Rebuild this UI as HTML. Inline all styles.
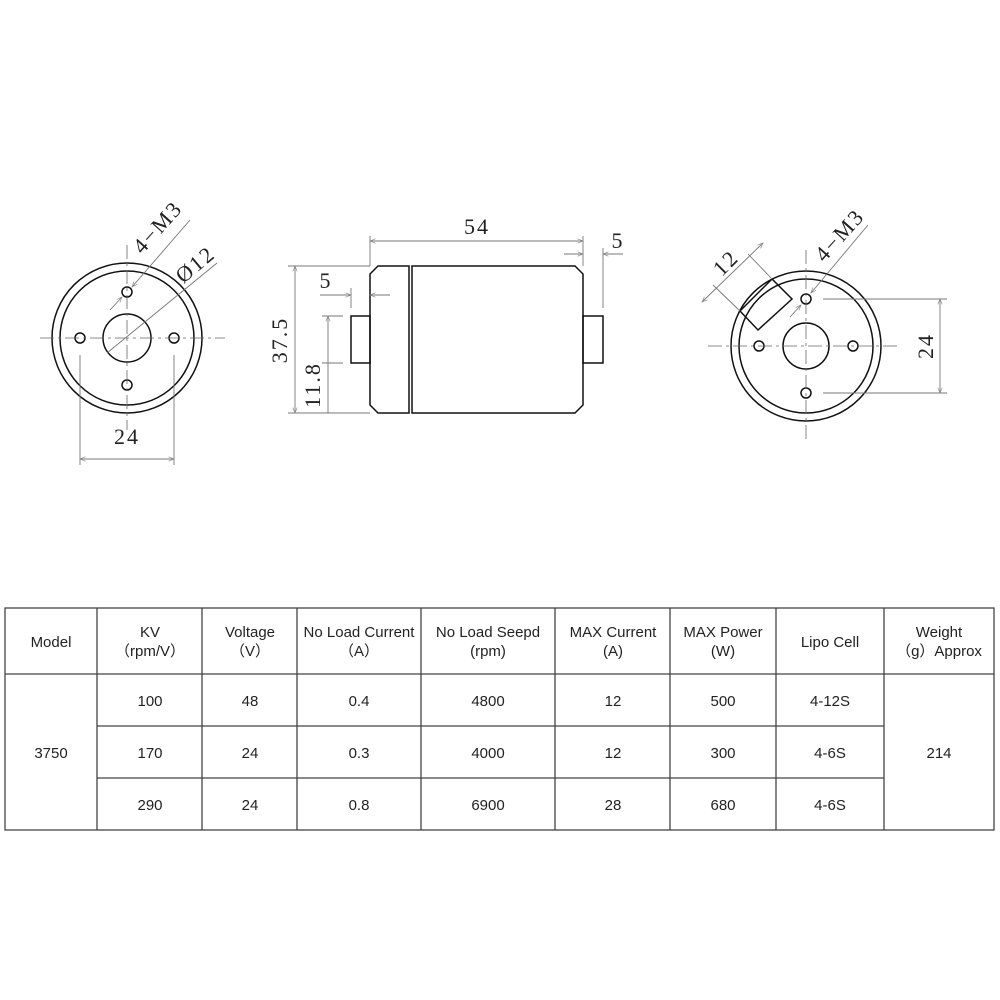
<!DOCTYPE html>
<html><head><meta charset="utf-8"><style>
html,body{margin:0;padding:0;background:#fff;width:1000px;height:1000px;overflow:hidden}
svg{display:block}
.t{font-family:"Liberation Sans",sans-serif;font-size:15px;fill:#222;text-anchor:middle}
.d{font-family:"Liberation Serif",serif;font-size:22px;fill:#222;text-anchor:middle;letter-spacing:2px}
</style></head><body>
<svg width="1000" height="1000" viewBox="0 0 1000 1000">
<defs>
<marker id="a" viewBox="0 0 10 10" refX="10" refY="5" markerWidth="8" markerHeight="6" orient="auto-start-reverse"><path d="M0,1 L10,5 L0,9" fill="none" stroke="#888" stroke-width="1.2"/></marker>
</defs>
<g fill="none" stroke="#111" stroke-width="1.5">
<circle cx="127" cy="338" r="75"/><circle cx="127" cy="338" r="67"/><circle cx="127" cy="338" r="24"/>
<circle cx="127" cy="292" r="5"/><circle cx="127" cy="385" r="5"/><circle cx="80" cy="338" r="5"/><circle cx="174" cy="338" r="5"/>
<circle cx="806" cy="346" r="75"/><circle cx="806" cy="346" r="67"/><circle cx="806" cy="346" r="23"/>
<circle cx="806" cy="299" r="5"/><circle cx="806" cy="393" r="5"/><circle cx="759" cy="346" r="5"/><circle cx="853" cy="346" r="5"/>
<path d="M772,279 L792,299 L758,330 L740,311 Z"/>
<path d="M378,266 L370,274 L370,405 L378,413 L409,413 L409,266 Z"/>
<path d="M412,266 L575,266 L583,274 L583,405 L575,413 L412,413 Z"/>
<rect x="351" y="316" width="19" height="47"/><rect x="583" y="316" width="20" height="47"/>
</g>
<g stroke="#666" stroke-width="0.8" fill="none" stroke-dasharray="14,4,3,4">
<line x1="40" y1="338" x2="225" y2="338"/><line x1="127" y1="245" x2="127" y2="430"/>
<line x1="708" y1="346" x2="900" y2="346"/><line x1="806" y1="250" x2="806" y2="440"/>
</g>
<g stroke="#777" stroke-width="0.9" fill="none">
<line x1="80" y1="355" x2="80" y2="465"/><line x1="174" y1="355" x2="174" y2="465"/>
<line x1="80" y1="459" x2="174" y2="459" marker-start="url(#a)" marker-end="url(#a)"/>
<line x1="110" y1="310" x2="122" y2="297" marker-end="url(#a)"/><line x1="132" y1="287" x2="190" y2="220" marker-start="url(#a)"/>
<line x1="107" y1="353" x2="217" y2="263"/>
<line x1="370" y1="236" x2="370" y2="266"/><line x1="583" y1="236" x2="583" y2="266"/>
<line x1="370" y1="241" x2="583" y2="241" marker-start="url(#a)" marker-end="url(#a)"/>
<line x1="603" y1="248" x2="603" y2="308"/>
<line x1="564" y1="254" x2="583" y2="254" marker-end="url(#a)"/><line x1="623" y1="254" x2="603" y2="254" marker-end="url(#a)"/>
<line x1="288" y1="266" x2="370" y2="266"/><line x1="288" y1="413" x2="370" y2="413"/>
<line x1="295" y1="266" x2="295" y2="413" marker-start="url(#a)" marker-end="url(#a)"/>
<line x1="351" y1="288" x2="351" y2="308"/>
<line x1="320" y1="295" x2="351" y2="295" marker-end="url(#a)"/><line x1="390" y1="295" x2="370" y2="295" marker-end="url(#a)"/>
<line x1="322" y1="316" x2="343" y2="316"/><line x1="322" y1="363" x2="343" y2="363"/>
<line x1="328" y1="316" x2="328" y2="413" marker-start="url(#a)"/>
<line x1="823" y1="299" x2="947" y2="299"/><line x1="823" y1="393" x2="947" y2="393"/>
<line x1="940" y1="299" x2="940" y2="393" marker-start="url(#a)" marker-end="url(#a)"/>
<line x1="772" y1="279" x2="748" y2="254"/><line x1="740" y1="311" x2="713" y2="285"/>
<line x1="702" y1="302" x2="763" y2="243" marker-start="url(#a)" marker-end="url(#a)"/>
<line x1="790" y1="317" x2="801" y2="305" marker-end="url(#a)"/><line x1="811" y1="293" x2="868" y2="225" marker-start="url(#a)"/>
</g>
<g class="d">
<text x="127" y="444">24</text>
<text transform="translate(163,232) rotate(-48)">4−M3</text>
<text transform="translate(200,270) rotate(-40)">Ø12</text>
<text x="477" y="234">54</text>
<text x="618" y="248">5</text>
<text x="326" y="288">5</text>
<text transform="translate(287,340) rotate(-90)">37.5</text>
<text transform="translate(320,385) rotate(-90)">11.8</text>
<text transform="translate(731,268) rotate(-45)">12</text>
<text transform="translate(845,240) rotate(-48)">4−M3</text>
<text transform="translate(933,346) rotate(-90)">24</text>
</g>
<g stroke="#444" stroke-width="1.3" fill="none">
<rect x="5" y="608" width="989" height="222"/>
<line x1="5" y1="674" x2="994" y2="674"/>
<line x1="97" y1="726" x2="884" y2="726"/><line x1="97" y1="778" x2="884" y2="778"/>
<line x1="97" y1="608" x2="97" y2="830"/><line x1="202" y1="608" x2="202" y2="830"/><line x1="297" y1="608" x2="297" y2="830"/>
<line x1="421" y1="608" x2="421" y2="830"/><line x1="555" y1="608" x2="555" y2="830"/><line x1="670" y1="608" x2="670" y2="830"/>
<line x1="776" y1="608" x2="776" y2="830"/><line x1="884" y1="608" x2="884" y2="830"/>
</g>
<g class="t">
<text x="51" y="647">Model</text>
<text x="150" y="637">KV</text><text x="150" y="656">（rpm/V）</text>
<text x="250" y="637">Voltage</text><text x="250" y="656">（V）</text>
<text x="359" y="637">No Load Current</text><text x="359" y="656">（A）</text>
<text x="488" y="637">No Load Seepd</text><text x="488" y="656">(rpm)</text>
<text x="613" y="637">MAX Current</text><text x="613" y="656">(A)</text>
<text x="723" y="637">MAX Power</text><text x="723" y="656">(W)</text>
<text x="830" y="647">Lipo Cell</text>
<text x="939" y="637">Weight</text><text x="939" y="656">（g）Approx</text>
<text x="51" y="758">3750</text><text x="939" y="758">214</text>
<text x="150" y="706">100</text><text x="250" y="706">48</text><text x="359" y="706">0.4</text><text x="488" y="706">4800</text><text x="613" y="706">12</text><text x="723" y="706">500</text><text x="830" y="706">4-12S</text>
<text x="150" y="758">170</text><text x="250" y="758">24</text><text x="359" y="758">0.3</text><text x="488" y="758">4000</text><text x="613" y="758">12</text><text x="723" y="758">300</text><text x="830" y="758">4-6S</text>
<text x="150" y="810">290</text><text x="250" y="810">24</text><text x="359" y="810">0.8</text><text x="488" y="810">6900</text><text x="613" y="810">28</text><text x="723" y="810">680</text><text x="830" y="810">4-6S</text>
</g>
</svg>
</body></html>
